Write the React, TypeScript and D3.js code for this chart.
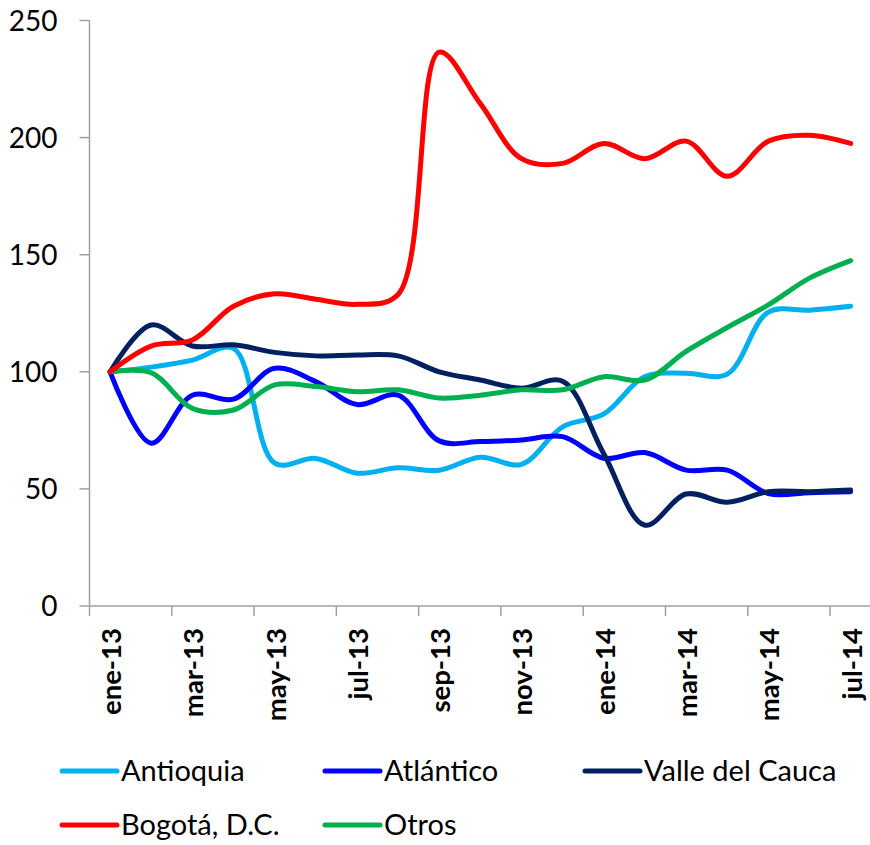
import React from "react";
import * as d3 from "d3";

const months = ["ene-13","feb-13","mar-13","abr-13","may-13","jun-13","jul-13","ago-13","sep-13","oct-13","nov-13","dic-13","ene-14","feb-14","mar-14","abr-14","may-14","jun-14","jul-14"];
const tickLabelMonths = ["ene-13","mar-13","may-13","jul-13","sep-13","nov-13","ene-14","mar-14","may-14","jul-14"];
const yTicks = [0, 50, 100, 150, 200, 250];

const antioquia = [100, 102, 105, 110, 61, 63, 56.7, 59, 58, 63.5, 60.5, 76.5, 82, 98, 99.4, 99, 125.5, 126.3, 128];
const atlantico = [100, 69.5, 90, 88.3, 101.5, 95.8, 86, 90, 70.5, 70.2, 70.9, 72.3, 63.1, 65.5, 58, 58, 48, 48.4, 48.8];
const valle = [100, 120, 111, 111.5, 108.3, 106.8, 107.2, 106.8, 100, 96.5, 93, 96, 65, 34.5, 47.8, 44.3, 48.8, 48.8, 49.5];
const bogota = [100, 111, 113.6, 128, 133.3, 131, 128.8, 133, 236.5, 214.5, 191, 189, 197.5, 191, 198.5, 183.5, 198.5, 201, 197.5];
const otros = [100, 99.6, 84.4, 83.7, 94.4, 93.7, 91.5, 92.3, 88.8, 90, 92.3, 92.3, 97.9, 96.5, 108.7, 118.9, 128.6, 140, 147.5];

const seriesNames = ["Antioquia", "Atlántico", "Valle del Cauca", "Bogotá, D.C.", "Otros"];
const seriesColors = ["#00B0F0", "#0000FF", "#002060", "#FF0000", "#00B050"];
const seriesValues = [antioquia, atlantico, valle, bogota, otros];

export default function App() {
  const W = 870, H = 845;
  const x0 = 89.5, x1 = 871.2;
  const yBottom = 606, yTop = 20.5;
  const x = d3.scaleBand<string>().domain(months).range([x0, x1]).paddingInner(0).paddingOuter(0);
  const bw = x.bandwidth();
  const cx = (m: string) => (x(m) as number) + bw / 2;
  const y = d3.scaleLinear().domain([0, 250]).range([yBottom, yTop]);
  const line = d3.line<number>()
    .x((_, i) => cx(months[i]))
    .y((d) => y(d))
    .curve(d3.curveCatmullRom.alpha(0.5));
  const axisColor = "#A0A0A0";
  const font = "Lato, 'Open Sans', sans-serif";

  const legendItems = seriesNames.map((n, i) => ({
    name: n,
    color: seriesColors[i],
    x: [62, 325, 585, 62, 325][i],
    y: [771, 771, 771, 825, 825][i],
  }));
  const order = [0, 1, 2, 4, 3];

  return (
    <svg width={W} height={H} style={{ position: "absolute", left: 0, top: 0, background: "#fff" }} fontFamily={font}>
      <line x1={x0} x2={x0} y1={yTop} y2={yBottom} stroke={axisColor} strokeWidth={1.5} />
      {yTicks.map((t) => (
        <g key={t}>
          <line x1={x0 - 10} x2={x0} y1={y(t)} y2={y(t)} stroke={axisColor} strokeWidth={1.5} />
          <text x={57.5} y={y(t)} dy="0.36em" textAnchor="end" fontSize={28} fill="#000">{t}</text>
        </g>
      ))}
      <line x1={x0} x2={W} y1={yBottom} y2={yBottom} stroke={axisColor} strokeWidth={1.5} />
      {months.map((m, i) => (i % 2 === 0 ? (
        <line key={m} x1={x(m) as number} x2={x(m) as number} y1={yBottom} y2={yBottom + 10} stroke={axisColor} strokeWidth={1.5} />
      ) : null))}
      {tickLabelMonths.map((m) => (
        <text key={m} transform={`translate(${cx(m)},628) rotate(-90)`} dy="0.4em" textAnchor="end" fontSize={27.5} fontWeight="bold" fill="#000">{m}</text>
      ))}
      {order.map((i) => (
        <path key={seriesNames[i]} d={line(seriesValues[i]) || ""} fill="none" stroke={seriesColors[i]} strokeWidth={5} strokeLinecap="round" strokeLinejoin="round" />
      ))}
      {legendItems.map((l) => (
        <g key={l.name}>
          <line x1={l.x} x2={l.x + 55} y1={l.y} y2={l.y} stroke={l.color} strokeWidth={5} strokeLinecap="round" />
          <text x={l.x + 59} y={l.y} dy="0.36em" fontSize={29} fill="#000">{l.name}</text>
        </g>
      ))}
    </svg>
  );
}
